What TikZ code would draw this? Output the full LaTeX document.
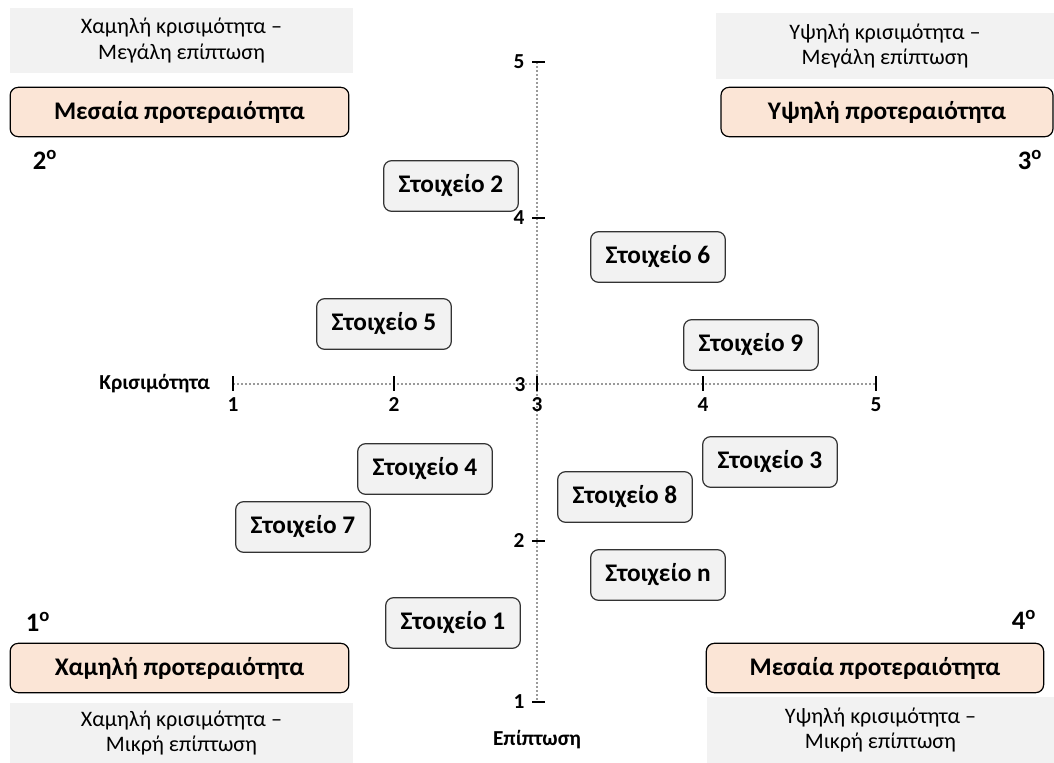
\documentclass[tikz,border=0pt]{standalone}
\usepackage{fontspec}
\setmainfont{Carlito}
\usepackage{xcolor}
\usepackage{tikz}
\usetikzlibrary{positioning,shapes}

\definecolor{boxgray}{HTML}{F2F2F2}
\definecolor{peach}{HTML}{FBE5D6}
\definecolor{axisgray}{HTML}{9A9A9A}

\begin{document}
\begin{tikzpicture}[
x=0.75pt, y=-0.75pt,
item/.style={rectangle, rounded corners=6pt, draw=black!80, line width=0.9pt, fill=boxgray, minimum width=101pt, minimum height=38pt, inner sep=0pt, font=\bfseries\fontsize{19}{23}\selectfont},
prio/.style={rectangle, rounded corners=6pt, draw=black, line width=0.9pt, fill=peach, minimum height=37pt, inner sep=0pt, font=\bfseries\fontsize{19}{22}\selectfont},
note/.style={rectangle, fill=boxgray, inner sep=0pt, align=center, font=\fontsize{16.6}{19}\selectfont},
quad/.style={inner sep=0pt, font=\bfseries\fontsize{20}{22}\selectfont},
ticklabel/.style={inner sep=1pt, font=\bfseries\fontsize{16}{18}\selectfont},
axis/.style={axisgray, line width=0.8pt, dash pattern=on 1.5pt off 1.5pt},
tick/.style={black, line width=2.2pt},
]
\useasboundingbox (0,0) rectangle (1054,763);

%Quadrant notes
\node[note, minimum width=257pt, minimum height=49pt] (note_tl) at (181.5,40.5) {Χαμηλή κρισιμότητα –\\Μεγάλη επίπτωση};
\node[note, minimum width=253pt, minimum height=49pt] (note_tr) at (885,46) {Υψηλή κρισιμότητα –\\Μεγάλη επίπτωση};
\node[note, minimum width=257pt, minimum height=45pt] (note_bl) at (181.5,733) {Χαμηλή κρισιμότητα –\\Μικρή επίπτωση};
\node[note, minimum width=260pt, minimum height=49.5pt] (note_br) at (880.5,730) {Υψηλή κρισιμότητα –\\Μικρή επίπτωση};

%Priorities
\node[prio, minimum width=254pt] (prio_tl) at (179.5,112) {Μεσαία προτεραιότητα};
\node[prio, minimum width=249pt] (prio_tr) at (887,112) {Υψηλή προτεραιότητα};
\node[prio, minimum width=254pt] (prio_bl) at (179.5,668) {Χαμηλή προτεραιότητα};
\node[prio, minimum width=253pt] (prio_br) at (875,668) {Μεσαία προτεραιότητα};

%Quadrant numbers
\node[quad] (q2) at (45,160) {2\textsuperscript{o}};
\node[quad] (q3) at (1030,160) {3\textsuperscript{o}};
\node[quad] (q1) at (38,622) {1\textsuperscript{o}};
\node[quad] (q4) at (1024,620) {4\textsuperscript{o}};

%Axes
\coordinate (h1) at (233,384);
\coordinate (h5) at (876,384);
\coordinate (v5) at (537,62);
\coordinate (v1) at (537,702);
\draw[axis] (h1) -- (h5);
\draw[axis] (v5) -- (v1);

\foreach \x/\n in {233/1,394/2,537/3,703/4,876/5}{
  \draw[tick] (\x,376) -- (\x,391);
  \node[ticklabel] (hl\n) at (\x,405) {\n};
}
\foreach \y/\n in {62/5,218/4,541/2,702/1}{
  \draw[tick] (532,\y) -- (545,\y);
  \node[ticklabel] (vl\n) at (519,\y) {\n};
}
\node[ticklabel] (vl3) at (520,385) {3};

\node[ticklabel] (krit) [left=16pt of h1] {Κρισιμότητα};
\node[ticklabel] (epi) at (537,740) {Επίπτωση};

%Elements
\node[item] (s2) at (451,186) {Στοιχείο 2};
\node[item] (s6) at (658,257) {Στοιχείο 6};
\node[item] (s5) at (384,324) {Στοιχείο 5};
\node[item] (s9) at (751,345) {Στοιχείο 9};
\node[item] (s4) at (425,469) {Στοιχείο 4};
\node[item] (s3) at (770,462) {Στοιχείο 3};
\node[item] (s8) at (625,497) {Στοιχείο 8};
\node[item] (s7) at (303,527) {Στοιχείο 7};
\node[item] (sn) at (658,575) {Στοιχείο n};
\node[item] (s1) at (453,623) {Στοιχείο 1};
\end{tikzpicture}
\end{document}
